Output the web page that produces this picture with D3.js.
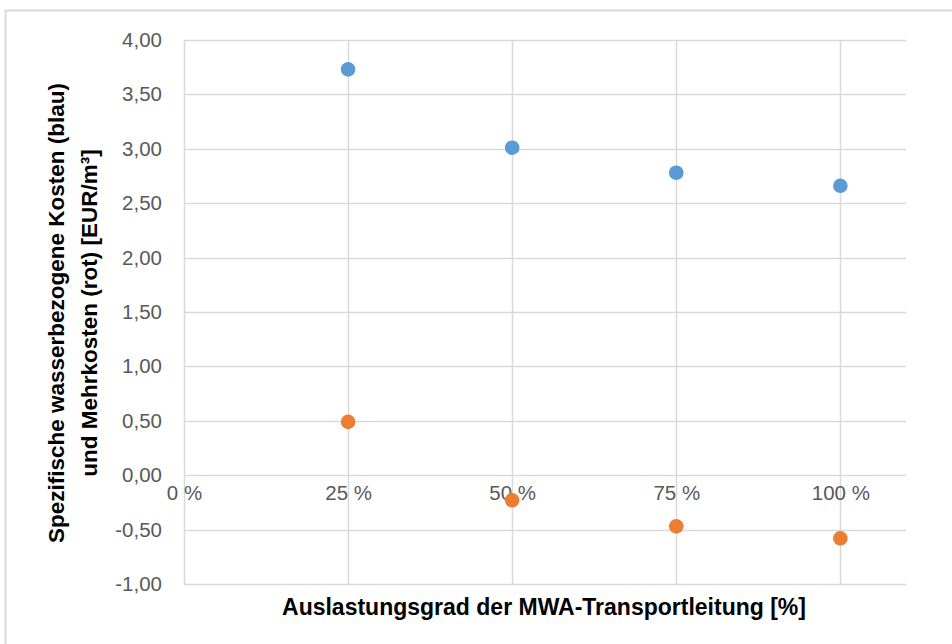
<!DOCTYPE html>
<html>
<head>
<meta charset="utf-8">
<script src="https://cdn.jsdelivr.net/npm/d3@7"></script>
<style>
  body { margin: 0; background: #fff; }
  svg { display: block; font-family: "Liberation Sans", Arial, sans-serif; }
</style>
</head>
<body>
<svg width="952" height="644"></svg>
<script>
"use strict";

// Auslastungsgrad in % and the two cost series (EUR/m³)
var auslastung = [25, 50, 75, 100];
var kostenBlau = [3.73, 3.01, 2.78, 2.66];
var mehrkostenRot = [0.49, -0.23, -0.47, -0.58];
var yTicks = [-1, -0.5, 0, 0.5, 1, 1.5, 2, 2.5, 3, 3.5, 4];
var xTicks = [0, 25, 50, 75, 100];

var svg = d3.select("svg"),
    width = +svg.attr("width"),
    height = +svg.attr("height");

var margin = { left: 184, top: 40, right: 46, bottom: 60 };

var x = d3.scaleLinear().domain([0, 110]).range([margin.left, width - margin.right]);
var y = d3.scaleLinear().domain([-1, 4]).range([height - margin.bottom, margin.top]);

// german decimal comma, plain hyphen for negatives
var fmt = function (d) { return d3.format(".2f")(d).replace(".", ",").replace("\u2212", "-"); };

// chart frame
svg.append("rect")
  .attr("x", 5.5).attr("y", 10.5)
  .attr("width", 1000).attr("height", 1000)
  .attr("fill", "none").attr("stroke", "#d9d9d9").attr("stroke-width", 2);

// horizontal grid
svg.append("g").selectAll("line").data(yTicks).enter().append("line")
  .attr("x1", x(0)).attr("x2", x(110))
  .attr("y1", function (d) { return Math.round(y(d)) + 0.5; })
  .attr("y2", function (d) { return Math.round(y(d)) + 0.5; })
  .attr("stroke", "#d9d9d9").attr("stroke-width", 1.5);

// vertical grid
svg.append("g").selectAll("line").data(xTicks).enter().append("line")
  .attr("x1", function (d) { return Math.round(x(d)) + 0.5; })
  .attr("x2", function (d) { return Math.round(x(d)) + 0.5; })
  .attr("y1", y(4)).attr("y2", y(-1))
  .attr("stroke", "#d9d9d9").attr("stroke-width", 1.5);

// y axis labels
var yAxis = d3.axisLeft(y).tickValues(yTicks).tickFormat(fmt).tickSize(0).tickPadding(22);
var gy = svg.append("g").attr("transform", "translate(" + x(0) + ",0)").call(yAxis);
gy.select(".domain").remove();
gy.selectAll("text").attr("fill", "#595959").style("font-size", "20.5px").style("font-family", null);

// x axis labels sit below the zero line
var xAxis = d3.axisBottom(x).tickValues(xTicks).tickFormat(function (d) { return d + " %"; }).tickSize(0).tickPadding(25);
var gx = svg.append("g").attr("transform", "translate(0," + y(0) + ")").call(xAxis);
gx.select(".domain").remove();
gx.selectAll("text").attr("fill", "#595959").style("font-size", "20.5px").style("font-family", null).attr("dy", "0");

// markers
svg.append("g").selectAll("circle").data(auslastung).enter().append("circle")
  .attr("cx", function (d) { return x(d); })
  .attr("cy", function (d, i) { return y(kostenBlau[i]); })
  .attr("r", 7.3).attr("fill", "#5b9bd5");

svg.append("g").selectAll("circle").data(auslastung).enter().append("circle")
  .attr("cx", function (d) { return x(d); })
  .attr("cy", function (d, i) { return y(mehrkostenRot[i]); })
  .attr("r", 7.3).attr("fill", "#ed7d31");

// axis titles
svg.append("text")
  .attr("x", 544).attr("y", 615)
  .attr("text-anchor", "middle")
  .attr("font-weight", "bold").attr("font-size", "23px").attr("fill", "#000")
  .text("Auslastungsgrad der MWA-Transportleitung [%]");

var yt = svg.append("text")
  .attr("transform", "translate(0,313) rotate(-90)")
  .attr("text-anchor", "middle")
  .attr("font-weight", "bold").attr("font-size", "22.5px").attr("fill", "#000");
yt.append("tspan").attr("x", 0).attr("y", 64).text("Spezifische wasserbezogene Kosten (blau)");
yt.append("tspan").attr("x", 0).attr("y", 97).text("und Mehrkosten (rot) [EUR/m³]");
</script>
</body>
</html>
